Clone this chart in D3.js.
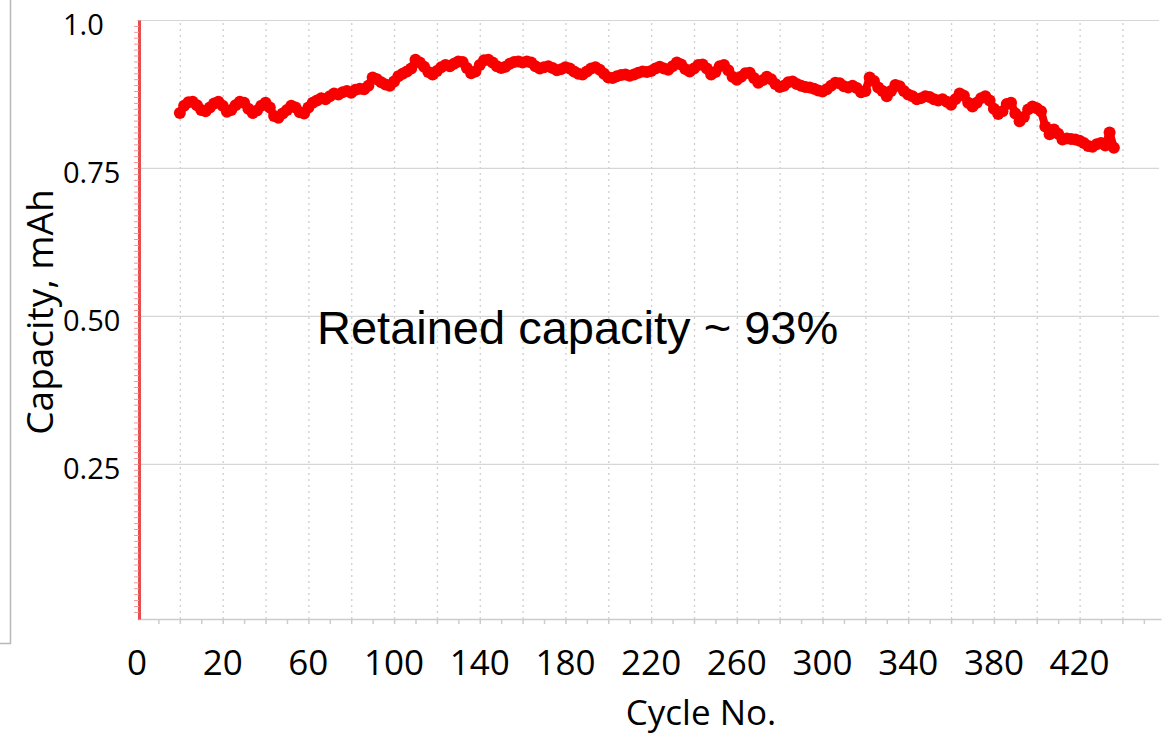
<!DOCTYPE html>
<html>
<head>
<meta charset="utf-8">
<script src="https://cdn.jsdelivr.net/npm/d3@7"></script>
<style>
  body { margin: 0; background: #fff; }
  svg { display: block; }
  .tick-label { font-family: "Open Sans", sans-serif; fill: #000; }
  .note { font-family: "Liberation Sans", Arial, sans-serif; fill: #000; }
</style>
</head>
<body>
<svg id="chart" width="1173" height="737"></svg>
<script>
// capacity (mAh), one value every 2 cycles starting at cycle 0
const cycleStep = 2;
const capacity = [
  0.843, 0.855, 0.861, 0.862, 0.856, 0.848, 0.846, 0.852, 0.859, 0.862,
  0.855, 0.845, 0.848, 0.856, 0.862, 0.860, 0.850, 0.843, 0.847, 0.855,
  0.860, 0.852, 0.838, 0.835, 0.842, 0.848, 0.855, 0.852, 0.844, 0.842,
  0.852, 0.860, 0.864, 0.868, 0.866, 0.871, 0.876, 0.874, 0.878, 0.880,
  0.877, 0.882, 0.884, 0.883, 0.889, 0.903, 0.900, 0.895, 0.891, 0.889,
  0.896, 0.905, 0.909, 0.913, 0.918, 0.933, 0.928, 0.921, 0.912, 0.908,
  0.914, 0.920, 0.924, 0.922, 0.926, 0.930, 0.929, 0.919, 0.910, 0.913,
  0.924, 0.932, 0.933, 0.928, 0.922, 0.919, 0.921, 0.926, 0.929, 0.930,
  0.928, 0.930, 0.928, 0.922, 0.918, 0.920, 0.922, 0.919, 0.915, 0.917,
  0.920, 0.918, 0.913, 0.909, 0.908, 0.913, 0.918, 0.920, 0.916, 0.909,
  0.903, 0.902, 0.905, 0.907, 0.908, 0.906, 0.908, 0.911, 0.913, 0.912,
  0.914, 0.918, 0.921, 0.918, 0.916, 0.922, 0.928, 0.925, 0.917, 0.913,
  0.918, 0.924, 0.925, 0.918, 0.908, 0.912, 0.922, 0.924, 0.915, 0.904,
  0.899, 0.904, 0.910, 0.911, 0.902, 0.894, 0.898, 0.904, 0.900, 0.892,
  0.887, 0.889, 0.895, 0.896, 0.892, 0.889, 0.887, 0.886, 0.884, 0.881,
  0.879, 0.883, 0.889, 0.894, 0.893, 0.888, 0.886, 0.889, 0.885, 0.878,
  0.880, 0.903, 0.897, 0.886, 0.880, 0.871, 0.880, 0.890, 0.888, 0.880,
  0.874, 0.871, 0.866, 0.868, 0.871, 0.870, 0.866, 0.864, 0.866, 0.862,
  0.857, 0.866, 0.876, 0.872, 0.860, 0.854, 0.860, 0.868, 0.871, 0.864,
  0.850, 0.841, 0.846, 0.858, 0.860, 0.842, 0.829, 0.836, 0.849, 0.854,
  0.851, 0.846, 0.820, 0.807, 0.815, 0.808, 0.798, 0.800, 0.799, 0.798,
  0.796, 0.792, 0.787, 0.786, 0.790, 0.792, 0.788, 0.810, 0.784
];

const xTickValues = [0, 20, 60, 100, 140, 180, 220, 260, 300, 340, 380, 420];
const yTickValues = [1.0, 0.75, 0.5, 0.25];
const yTickText = ['1.0', '0.75', '0.50', '0.25'];
const xGridStep = 20;
const xMax = 440;

const points = capacity.map((c, i) => ({ cycle: i * cycleStep, cap: c }));

const svg = d3.select('#chart');

// plot frame: y axis sits one grid step before cycle 0
const xScale = d3.scaleLinear().domain([-20, 458]).range([137, 1161]);
const yScale = d3.scaleLinear().domain([-0.012, 1.0]).range([619, 20]);

// left border left over from the source figure
svg.append('path')
  .attr('d', `M10.5,0 V643.5 H0`)
  .attr('fill', 'none')
  .attr('stroke', '#b8b8b8')
  .attr('stroke-width', 1.5);

// horizontal grid
svg.append('g')
  .attr('class', 'grid')
  .attr('transform', `translate(${xScale.range()[0]},0)`)
  .call(d3.axisRight(yScale)
    .tickValues(yTickValues)
    .tickSize(xScale.range()[1] - xScale.range()[0] - 2)
    .tickFormat('')
  )
  .call(g => g.select('.domain').remove())
  .call(g => g.selectAll('line').attr('stroke', '#d6d6d6').attr('stroke-width', 1.2));

// vertical dotted grid
svg.append('g')
  .attr('class', 'grid')
  .attr('transform', `translate(0,${yScale.range()[0]})`)
  .call(d3.axisBottom(xScale)
    .tickValues(d3.range(0, xMax + 1, xGridStep))
    .tickSize(-(yScale.range()[0] - yScale.range()[1]))
    .tickFormat('')
  )
  .call(g => g.select('.domain').remove())
  .call(g => g.selectAll('line')
    .attr('stroke', '#cfcfcf')
    .attr('stroke-width', 1.3)
    .attr('stroke-dasharray', '2,4'));

// bottom axis with small ticks
svg.append('g')
  .attr('transform', `translate(0,${yScale.range()[0]})`)
  .call(d3.axisBottom(xScale)
    .tickValues(d3.range(-10, xMax + 11, xGridStep / 2))
    .tickSize(5)
    .tickSizeOuter(0)
    .tickFormat('')
  )
  .call(g => g.selectAll('line,path').attr('stroke', '#cccccc').attr('stroke-width', 1.5));

// red y axis with dense minor ticks
svg.append('g')
  .attr('transform', `translate(${xScale.range()[0] + 2},0)`)
  .call(d3.axisLeft(yScale)
    .tickValues(d3.range(0, 100).map(i => i / 100))
    .tickSize(5)
    .tickSizeOuter(0)
    .tickFormat('')
  )
  .call(g => g.selectAll('.tick line').attr('stroke', '#f09a9a').attr('stroke-width', 1))
  .call(g => g.select('.domain').attr('stroke', '#ea4c4c').attr('stroke-width', 3));

// data: thick trace under overlapping markers
const series = svg.append('g');

series.append('path')
  .datum(points)
  .attr('fill', 'none')
  .attr('stroke', '#f80000')
  .attr('stroke-width', 8)
  .attr('stroke-linejoin', 'round')
  .attr('stroke-linecap', 'round')
  .attr('d', d3.line().x(d => xScale(d.cycle)).y(d => yScale(d.cap)));

series.selectAll('circle')
  .data(points)
  .enter()
  .append('circle')
  .attr('cx', d => xScale(d.cycle))
  .attr('cy', d => yScale(d.cap))
  .attr('r', 6)
  .attr('fill', '#f80000');

// x tick labels ("0" is written at the origin corner)
svg.append('g')
  .selectAll('text')
  .data(xTickValues)
  .enter()
  .append('text')
  .attr('class', 'tick-label')
  .attr('x', d => d === 0 ? xScale.range()[0] : xScale(d))
  .attr('y', 675)
  .attr('text-anchor', 'middle')
  .style('font-size', '35px')
  .text(d => d);

// y tick labels, left aligned
svg.append('g')
  .selectAll('text')
  .data(yTickValues)
  .enter()
  .append('text')
  .attr('class', 'tick-label')
  .attr('x', 63)
  .attr('y', d => yScale(d) + 15)
  .attr('text-anchor', 'start')
  .style('font-size', '29px')
  .text((d, i) => yTickText[i]);

// axis titles
svg.append('text')
  .attr('class', 'tick-label')
  .attr('x', 701)
  .attr('y', 725)
  .attr('text-anchor', 'middle')
  .style('font-size', '35px')
  .text('Cycle No.');

svg.append('text')
  .attr('class', 'tick-label')
  .attr('transform', `translate(53,312) rotate(-90)`)
  .attr('text-anchor', 'middle')
  .style('font-size', '37px')
  .text('Capacity, mAh');

// annotation
svg.append('text')
  .attr('class', 'note')
  .attr('x', 317)
  .attr('y', 344)
  .style('font-size', '47px')
  .text('Retained capacity ~ 93%');
</script>
</body>
</html>
